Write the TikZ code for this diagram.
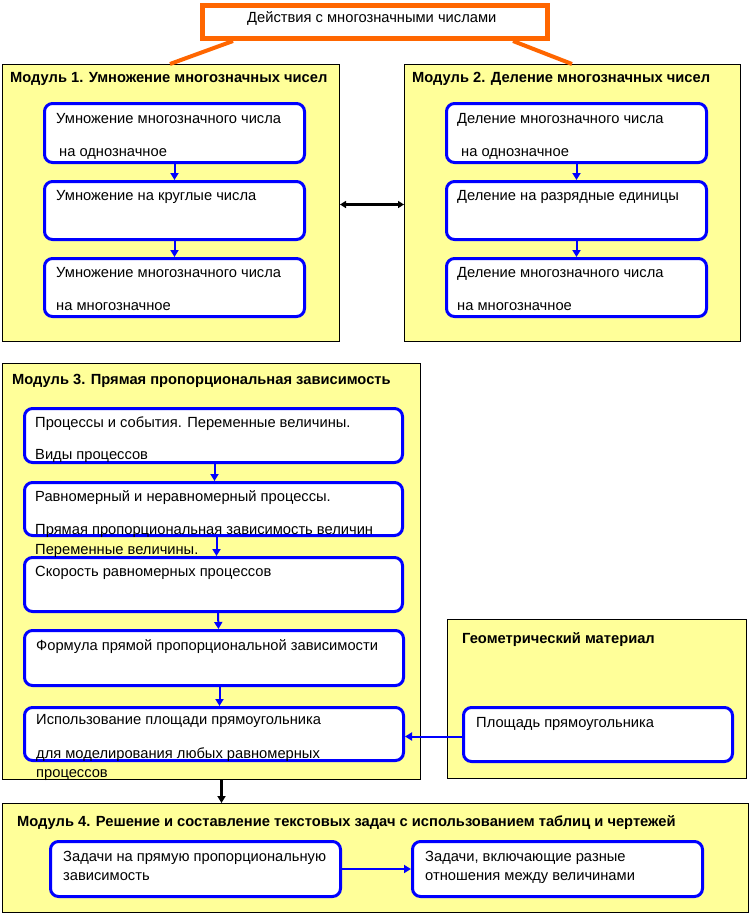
\documentclass[tikz,border=0pt]{standalone}
\usepackage{fontspec}
\setmainfont{Liberation Sans}
\usetikzlibrary{arrows.meta}
\definecolor{yel}{HTML}{FFFF99}
\definecolor{org}{HTML}{FF6600}
\definecolor{blu}{HTML}{0000FF}
\begin{document}
\begin{tikzpicture}[x=1pt,y=-1pt,
  modbox/.style={draw=black,line width=1pt,fill=yel,inner sep=0pt,anchor=north west},
  inbox/.style={draw=blu,line width=3pt,fill=white,rounded corners=8pt,inner sep=0pt,anchor=north west},
  topbox/.style={draw=org,line width=5pt,fill=white,inner sep=0pt,anchor=north west},
  txt/.style={inner sep=0pt,anchor=base west,font=\fontsize{14.7}{16}\selectfont},
  ttl/.style={inner sep=0pt,anchor=base west,font=\fontsize{14.7}{16}\selectfont\bfseries},
  barrow/.style={draw=blu,line width=2pt,-{Triangle[length=7pt,width=8pt]}},
  karrow/.style={draw=black,line width=3pt,-{Triangle[length=7pt,width=8pt]}},
  kdarrow/.style={draw=black,line width=3pt,{Triangle[length=6pt,width=7pt]}-{Triangle[length=6pt,width=7pt]}},
  orgline/.style={draw=org,line width=4pt}
]
\useasboundingbox (0,0) rectangle (752,914);
\fill[white] (0,0) rectangle (752,914);

% top box
\node[topbox,minimum width=345pt,minimum height=33pt] (top) at (200,3) {};
\node[txt] (toptxt) at (247,22) {Действия с многозначными числами};

% modules
\node[modbox,minimum width=337pt,minimum height=277pt] (m1) at (2,64) {};
\node[modbox,minimum width=336pt,minimum height=277pt] (m2) at (404,64) {};
\node[modbox,minimum width=418pt,minimum height=416pt] (m3) at (2,363) {};
\node[modbox,minimum width=299pt,minimum height=159pt] (g) at (447,619) {};
\node[modbox,minimum width=746pt,minimum height=109pt] (m4) at (2,803) {};

% orange connector lines
\draw[orgline] ([xshift=33pt]top.south west) -- ([xshift=168pt]m1.north west);
\draw[orgline] ([xshift=-37pt]top.south east) -- ([xshift=168pt]m2.north west);

% module 1
\node[ttl] (m1t) at (10,82) {Модуль 1. Умножение многозначных чисел};
\node[inbox,minimum width=260pt,minimum height=59pt] (m1a) at (43,102) {};
\node[inbox,minimum width=260pt,minimum height=58pt] (m1b) at (43,180) {};
\node[inbox,minimum width=260pt,minimum height=58pt] (m1c) at (43,257) {};
\node[txt] (m1a1) at (56,123) {Умножение многозначного числа};
\node[txt] (m1a2) at (59,156) {на однозначное};
\node[txt] (m1b1) at (56,200) {Умножение на круглые числа};
\node[txt] (m1c1) at (56,277) {Умножение многозначного числа};
\node[txt] (m1c2) at (56,310) {на многозначное};
\draw[barrow] (m1a.south) -- (m1b.north);
\draw[barrow] (m1b.south) -- (m1c.north);

% module 2
\node[ttl] (m2t) at (412,82) {Модуль 2. Деление многозначных чисел};
\node[inbox,minimum width=260pt,minimum height=59pt] (m2a) at (445,102) {};
\node[inbox,minimum width=260pt,minimum height=58pt] (m2b) at (445,180) {};
\node[inbox,minimum width=260pt,minimum height=58pt] (m2c) at (445,257) {};
\node[txt] (m2a1) at (457,123) {Деление многозначного числа};
\node[txt] (m2a2) at (461,156) {на однозначное};
\node[txt] (m2b1) at (457,200) {Деление на разрядные единицы};
\node[txt] (m2c1) at (457,277) {Деление многозначного числа};
\node[txt] (m2c2) at (457,310) {на многозначное};
\draw[barrow] (m2a.south) -- (m2b.north);
\draw[barrow] (m2b.south) -- (m2c.north);

% double arrow
\draw[kdarrow] ([yshift=-1.5pt]m1.east) -- ([yshift=-1.5pt]m2.west);

% module 3
\node[ttl] (m3t) at (12,384) {Модуль 3. Прямая пропорциональная зависимость};
\node[inbox,minimum width=378pt,minimum height=54pt] (m3a) at (23,407) {};
\node[inbox,minimum width=378pt,minimum height=53pt] (m3b) at (23,481) {};
\node[inbox,minimum width=378pt,minimum height=54pt] (m3c) at (23,556) {};
\node[inbox,minimum width=379pt,minimum height=55pt] (m3d) at (23,629) {};
\node[inbox,minimum width=379pt,minimum height=53pt] (m3e) at (23,706) {};
\draw[barrow] ([xshift=1pt]m3a.south) -- ([xshift=1pt]m3b.north);
\draw[barrow] ([xshift=3pt]m3b.south) -- ([xshift=3pt]m3c.north);
\draw[barrow] ([xshift=4.5pt]m3c.south) -- ([xshift=4.5pt]m3d.north);
\draw[barrow] ([xshift=5.5pt]m3d.south) -- ([xshift=5.5pt]m3e.north);
\node[txt] (m3a1) at (35,427) {Процессы и события. Переменные величины.};
\node[txt] (m3a2) at (35,459) {Виды процессов};
\node[txt] (m3b1) at (35,501) {Равномерный и неравномерный процессы.};
\node[txt] (m3b2) at (35,534) {Прямая пропорциональная зависимость величин};
\node[txt] (m3b3) at (35,554) {Переменные величины.};
\node[txt] (m3c1) at (35,576) {Скорость равномерных процессов};
\node[txt] (m3d1) at (36,650) {Формула прямой пропорциональной зависимости};
\node[txt] (m3e1) at (36,724) {Использование площади прямоугольника};
\node[txt] (m3e2) at (36,758) {для моделирования любых равномерных};
\node[txt] (m3e3) at (36,777) {процессов};

% geometry
\node[ttl] (gt) at (462,643) {Геометрический материал};
\node[inbox,minimum width=269pt,minimum height=54pt] (g1) at (462,706) {};
\node[txt] (g1t) at (476,727) {Площадь прямоугольника};
\draw[barrow] ([yshift=-2pt]g1.west) -- ([yshift=-2pt]g1.west -| m3e.east);

% down arrow
\draw[karrow] ([xshift=10pt]m3.south) -- ([xshift=10pt]m3.south |- m4.north);

% module 4
\node[ttl] (m4t) at (17,826) {Модуль 4. Решение и составление текстовых задач с использованием таблиц и чертежей};
\node[inbox,minimum width=290pt,minimum height=55pt] (m4a) at (49,840) {};
\node[inbox,minimum width=290pt,minimum height=55pt] (m4b) at (411,840) {};
\node[txt] (m4a1) at (63,861) {Задачи на прямую пропорциональную};
\node[txt] (m4a2) at (63,880) {зависимость};
\node[txt] (m4b1) at (425,861) {Задачи, включающие разные};
\node[txt] (m4b2) at (425,880) {отношения между величинами};
\draw[barrow] (m4a.east) -- (m4b.west);
\end{tikzpicture}
\end{document}
